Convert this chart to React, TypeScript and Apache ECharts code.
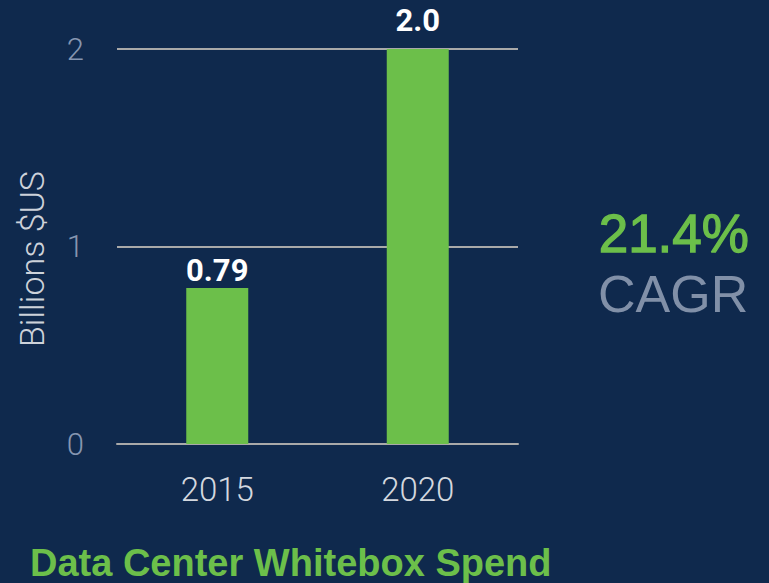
import React, { useEffect, useRef } from "react";
import * as echarts from "echarts";

const categories = ["2015", "2020"];
const spendValues = [0.79, 2.0];
const barLabels = ["0.79", "2.0"];
const yTicks = [0, 1, 2];
const cagrText = "21.4%";
const cagrLabel = "CAGR";
const chartTitle = "Data Center Whitebox Spend";
const yAxisName = "Billions $US";

export default function App() {
  const ref = useRef<HTMLDivElement>(null);
  useEffect(() => {
    if (!ref.current) return;
    const chart = echarts.init(ref.current, null, { renderer: "svg" });
    const labelDistances = [5, 17];
    chart.setOption({
      animation: false,
      backgroundColor: "#0f294d",
      title: {
        text: chartTitle,
        left: 25,
        top: 539,
        textStyle: {
          color: "#6cbf4a",
          fontFamily: "Liberation Sans",
          fontWeight: "bold",
          fontSize: 38,
        },
      },
      grid: { left: 117, right: 251, top: 49, bottom: 139 },
      xAxis: {
        type: "category",
        data: categories,
        axisLine: { lineStyle: { color: "#a9a9a9", width: 2 } },
        axisTick: { show: false },
        axisLabel: {
          color: "#d4d8df",
          fontFamily: "Roboto",
          fontWeight: 300,
          fontSize: 33,
          margin: 29,
        },
      },
      yAxis: {
        type: "value",
        min: yTicks[0],
        max: yTicks[yTicks.length - 1],
        interval: 1,
        axisLine: { show: false },
        axisTick: { show: false },
        splitLine: { lineStyle: { color: "#a9a9a9", width: 2 } },
        axisLabel: {
          color: "#8696b0",
          fontFamily: "Roboto",
          fontWeight: 300,
          fontSize: 31,
          margin: 33,
        },
      },
      series: [
        {
          type: "bar",
          data: spendValues.map((v, i) => ({
            value: v,
            label: { distance: labelDistances[i] },
          })),
          barWidth: 62,
          itemStyle: { color: "#6cbf4a" },
          label: {
            show: true,
            position: "top",
            formatter: (p: any) => barLabels[p.dataIndex],
            color: "#ffffff",
            fontFamily: "Roboto",
            fontWeight: "bold",
            fontSize: 31,
            lineHeight: 24,
          },
        },
      ],
      graphic: [
        {
          type: "text",
          x: 32,
          y: 259,
          rotation: Math.PI / 2,
          style: {
            text: yAxisName,
            fill: "#cdd2da",
            font: "300 34px Roboto",
            align: "center",
            verticalAlign: "middle",
          },
        },
        {
          type: "text",
          left: 598,
          top: 206,
          style: {
            text: cagrText,
            fill: "#6cbf4a",
            stroke: "#6cbf4a",
            lineWidth: 1.3,
            font: "53px 'Liberation Sans'",
          },
        },
        {
          type: "text",
          left: 598,
          top: 268,
          style: {
            text: cagrLabel,
            fill: "#8190a8",
            font: "52px 'Liberation Sans'",
          },
        },
      ],
    });
    return () => chart.dispose();
  }, []);
  return (
    <div
      ref={ref}
      style={{ position: "fixed", left: 0, top: 0, width: 769, height: 583 }}
    />
  );
}
